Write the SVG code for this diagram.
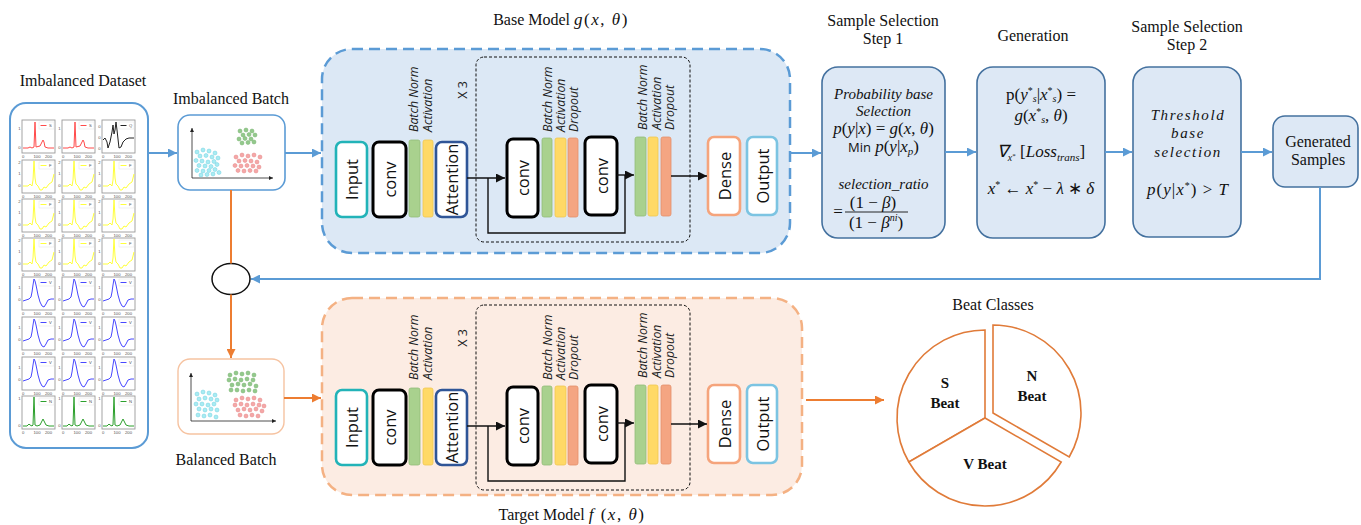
<svg xmlns="http://www.w3.org/2000/svg" xmlns:xlink="http://www.w3.org/1999/xlink" width="1361" height="525" viewBox="0 0 1361 525">
  <style>
    .ttl { font-family: "Liberation Serif", serif; font-size: 16px; fill: #111; text-anchor: middle; }
    .lbl { font-family: "Open Sans", sans-serif; font-size: 16.5px; fill: #111; text-anchor: middle; dominant-baseline: central; }
    .sm  { font-family: "Open Sans", sans-serif; font-size: 12.3px; font-style: italic; fill: #222; }
    .x3  { font-family: "Open Sans", sans-serif; font-size: 12.5px; fill: #222; text-anchor: middle; }
    .m   { font-family: "Liberation Serif", serif; font-size: 17px; fill: #111; text-anchor: middle; }
    .mw  { font-family: "Liberation Serif", serif; font-size: 15px; font-style: italic; fill: #111; text-anchor: middle; }
    .sp  { letter-spacing: 1.6px; }
    .i   { font-style: italic; }
    .sf  { font-family: "Open Sans", sans-serif; font-size: 13px; font-style: normal; }
    .bt  { font-family: "Liberation Serif", serif; font-size: 15px; font-weight: bold; fill: #111; text-anchor: middle; }
    .step { fill: #dde8f5; stroke: #44719f; stroke-width: 1.6; }
    .blue { fill: none; stroke: #5b9bd5; stroke-width: 2; }
    .org  { fill: none; stroke: #ed7d31; stroke-width: 2; }
    .k    { fill: none; stroke: #111; stroke-width: 1.4; }
    .inp { fill: #fff; stroke: #22b3b8; stroke-width: 2.6; }
    .cnv { fill: #fff; stroke: #000; stroke-width: 3; }
    .att { fill: #fff; stroke: #2f5597; stroke-width: 2.6; }
    .dns { fill: #fff; stroke: #f5a47c; stroke-width: 2.6; }
    .out { fill: #fff; stroke: #7cc4e2; stroke-width: 2.6; }
    .bn  { fill: #a9d18e; stroke: #93bd78; stroke-width: 0.8; }
    .ac  { fill: #ffd966; stroke: #f0c850; stroke-width: 0.8; }
    .dr  { fill: #f4a582; stroke: #e48f6a; stroke-width: 0.8; }
    .pf  { fill: #fff; stroke: #9a9a9a; stroke-width: 0.9; }
    .wv  { fill: none; stroke-width: 1; stroke-linejoin: round; }
    .lg  { fill: #fff; stroke: #dddddd; stroke-width: 0.4; }
    .tk  { font-family: "Liberation Sans", sans-serif; font-size: 4.2px; fill: #555; }
    .cy  { fill: #a8ecf3; stroke: #72cfe0; stroke-width: 0.5; }
    .gr  { fill: #93c98c; stroke: #74b06d; stroke-width: 0.5; }
    .pk  { fill: #f5a7a7; stroke: #e48686; stroke-width: 0.5; }
    .pie { fill: #fff; stroke: #e07b39; stroke-width: 1.6; stroke-linejoin: miter; }
  </style>
  <defs>
    <marker id="ab" viewBox="0 0 10 10" refX="10" refY="5" markerWidth="11" markerHeight="9" markerUnits="userSpaceOnUse" orient="auto">
      <path d="M0,0 L10,5 L0,10 z" fill="#5b9bd5"/>
    </marker>
    <marker id="ao" viewBox="0 0 10 10" refX="10" refY="5" markerWidth="11" markerHeight="9" markerUnits="userSpaceOnUse" orient="auto">
      <path d="M0,0 L10,5 L0,10 z" fill="#ed7d31"/>
    </marker>
    <marker id="ak" viewBox="0 0 10 10" refX="10" refY="5" markerWidth="10" markerHeight="9" markerUnits="userSpaceOnUse" orient="auto">
      <path d="M0,0 L10,5 L0,10 z" fill="#111"/>
    </marker>
    <marker id="ax" viewBox="0 0 10 10" refX="10" refY="5" markerWidth="4" markerHeight="4" markerUnits="userSpaceOnUse" orient="auto">
      <path d="M0,0 L10,5 L0,10 z" fill="#222"/>
    </marker>

    <!-- shared tick labels for the small ECG plots -->
    <g id="xt">
      <text class="tk" x="0" y="37.5">0</text>
      <text class="tk" x="11.5" y="37.5">100</text>
      <text class="tk" x="23" y="37.5">200</text>
    </g>

    <!-- one small ECG plot per beat class -->
    <g id="pS">
      <rect class="pf" width="33" height="33"/>
      <polyline class="wv" stroke="#ff4a4a" points="1,28 6,28 8,27 10,28 12,27 13,2 14,27 16,26.5 18,26 20,22 21,20 22,22 23,27 26,28 32,28"/>
      <rect class="lg" x="17" y="2" width="15" height="7"/>
      <line x1="18.5" y1="5.5" x2="24.5" y2="5.5" stroke="#ff4a4a" stroke-width="1"/>
      <text class="tk" x="27" y="7">S</text>
      <text class="tk" x="-1.5" y="10" text-anchor="end">1</text>
      <text class="tk" x="-1.5" y="29" text-anchor="end">0</text>
      <use href="#xt"/>
    </g>
    <g id="pQ">
      <rect class="pf" width="33" height="33"/>
      <polyline class="wv" stroke="#222" points="1,20 3,18 5,22 6,28 8,22 10,12 11,5 12,14 13,10 14,2 15,10 17,28 19,27 21,22 24,19 27,18 32,18"/>
      <rect class="lg" x="17" y="2" width="15" height="7"/>
      <line x1="18.5" y1="5.5" x2="24.5" y2="5.5" stroke="#222" stroke-width="1"/>
      <text class="tk" x="27" y="7">Q</text>
      <text class="tk" x="-1.5" y="8" text-anchor="end">0</text>
      <text class="tk" x="-1.5" y="19" text-anchor="end">0</text>
      <text class="tk" x="-1.5" y="30" text-anchor="end">0</text>
      <use href="#xt"/>
    </g>
    <g id="pF">
      <rect class="pf" width="33" height="33"/>
      <polyline class="wv" stroke="#ffff3a" points="1,26 6,26 8,24 10,26 11,20 12,1 13,18 14,24 16,26 18,30 20,30 22,27 24,28 27,24 30,22 32,14"/>
      <rect class="lg" x="17" y="2" width="15" height="7"/>
      <line x1="18.5" y1="5.5" x2="24.5" y2="5.5" stroke="#ffff3a" stroke-width="1"/>
      <text class="tk" x="27" y="7">F</text>
      <text class="tk" x="-1.5" y="4" text-anchor="end">2</text>
      <text class="tk" x="-1.5" y="15" text-anchor="end">1</text>
      <text class="tk" x="-1.5" y="27" text-anchor="end">0</text>
      <use href="#xt"/>
    </g>
    <g id="pV">
      <rect class="pf" width="33" height="33"/>
      <polyline class="wv" stroke="#4848ff" points="1,24 4,23 7,22 9,20 10,15 11,8 12,2 13,4 14,8 16,18 18,25 20,29 22,30 24,27 26,23 29,22 32,22"/>
      <rect class="lg" x="17" y="2" width="15" height="7"/>
      <line x1="18.5" y1="5.5" x2="24.5" y2="5.5" stroke="#4848ff" stroke-width="1"/>
      <text class="tk" x="27" y="7">V</text>
      <text class="tk" x="-1.5" y="12" text-anchor="end">1</text>
      <text class="tk" x="-1.5" y="24" text-anchor="end">0</text>
      <use href="#xt"/>
    </g>
    <g id="pN">
      <rect class="pf" width="33" height="33"/>
      <polyline class="wv" stroke="#2ca02c" points="1,30 5,30 7,28 8,29 10,30 11,29 12,1 13,29 15,30 18,29 20,25 21,23 22,25 24,29 27,30 32,30"/>
      <rect class="lg" x="17" y="2" width="15" height="7"/>
      <line x1="18.5" y1="5.5" x2="24.5" y2="5.5" stroke="#2ca02c" stroke-width="1"/>
      <text class="tk" x="27" y="7">N</text>
      <text class="tk" x="-1.5" y="4" text-anchor="end">1</text>
      <text class="tk" x="-1.5" y="31" text-anchor="end">0</text>
      <use href="#xt"/>
    </g>

    <!-- layer stack shared by the base and the target network -->
    <g id="stack">
      <rect x="476" y="57" width="214" height="185" rx="8" fill="none" stroke="#111" stroke-width="1" stroke-dasharray="3 2"/>
      <rect class="inp" x="336" y="142" width="31" height="75" rx="6"/>
      <text class="lbl" transform="translate(351.5,179.5) rotate(-90)">Input</text>
      <rect class="cnv" x="373" y="142" width="33" height="75" rx="6"/>
      <text class="lbl" transform="translate(389.5,179.5) rotate(-90)">conv</text>
      <rect class="bn" x="409" y="140" width="11" height="77" rx="2"/>
      <rect class="ac" x="423" y="140" width="10" height="77" rx="2"/>
      <text class="sm" transform="translate(418,132) rotate(-90)">Batch Norm</text>
      <text class="sm" transform="translate(432,132) rotate(-90)">Activation</text>
      <rect class="att" x="436" y="142" width="31" height="75" rx="6"/>
      <text class="lbl" transform="translate(451.5,179.5) rotate(-90)">Attention</text>
      <text class="x3" transform="translate(467,90) rotate(-90)">X 3</text>

      <rect class="cnv" x="507" y="139" width="31" height="78" rx="6"/>
      <text class="lbl" transform="translate(522.5,178) rotate(-90)">conv</text>
      <rect class="bn" x="542" y="138" width="10" height="79" rx="2"/>
      <rect class="ac" x="555" y="138" width="11" height="79" rx="2"/>
      <rect class="dr" x="568" y="138" width="10" height="79" rx="2"/>
      <text class="sm" transform="translate(552,132) rotate(-90)">Batch Norm</text>
      <text class="sm" transform="translate(565,132) rotate(-90)">Activation</text>
      <text class="sm" transform="translate(578,132) rotate(-90)">Dropout</text>

      <rect class="cnv" x="585" y="137" width="32" height="78" rx="6"/>
      <text class="lbl" transform="translate(601,176) rotate(-90)">conv</text>
      <rect class="bn" x="635" y="137" width="11" height="79" rx="2"/>
      <rect class="ac" x="648" y="137" width="10" height="79" rx="2"/>
      <rect class="dr" x="661" y="137" width="10" height="79" rx="2"/>
      <text class="sm" transform="translate(647,130) rotate(-90)">Batch Norm</text>
      <text class="sm" transform="translate(661,130) rotate(-90)">Activation</text>
      <text class="sm" transform="translate(674,130) rotate(-90)">Dropout</text>

      <rect class="dns" x="708" y="137" width="32" height="78" rx="6"/>
      <text class="lbl" transform="translate(724,176) rotate(-90)">Dense</text>
      <rect class="out" x="747" y="137" width="30" height="78" rx="6"/>
      <text class="lbl" transform="translate(762,176) rotate(-90)">Output</text>

      <!-- internal data flow -->
      <line class="k" x1="467" y1="178" x2="505" y2="178" marker-end="url(#ak)"/>
      <path class="k" d="M488,178 V233 H625 V175"/>
      <line class="k" x1="617" y1="175" x2="634" y2="175" marker-end="url(#ak)"/>
      <line class="k" x1="671" y1="176" x2="707" y2="176" marker-end="url(#ak)"/>
    </g>
  </defs>

  <rect width="1361" height="525" fill="#fff"/>

  <!-- Imbalanced dataset -->
  <g id="imbalanced-dataset">
    <text class="ttl" x="83" y="86">Imbalanced Dataset</text>
    <rect x="10" y="103" width="138" height="345" rx="16" fill="#fff" stroke="#5b9bd5" stroke-width="2"/>
    <use href="#pS" x="22" y="120"/><use href="#pS" x="62" y="120"/><use href="#pQ" x="102" y="120"/>
    <use href="#pF" x="22" y="160"/><use href="#pF" x="62" y="160"/><use href="#pF" x="102" y="160"/>
    <use href="#pF" x="22" y="199"/><use href="#pF" x="62" y="199"/><use href="#pF" x="102" y="199"/>
    <use href="#pF" x="22" y="238"/><use href="#pF" x="62" y="238"/><use href="#pF" x="102" y="238"/>
    <use href="#pV" x="22" y="277"/><use href="#pV" x="62" y="277"/><use href="#pV" x="102" y="277"/>
    <use href="#pV" x="22" y="317"/><use href="#pV" x="62" y="317"/><use href="#pV" x="102" y="317"/>
    <use href="#pV" x="22" y="357"/><use href="#pV" x="62" y="357"/><use href="#pV" x="102" y="357"/>
    <use href="#pN" x="22" y="396"/><use href="#pN" x="62" y="396"/><use href="#pN" x="102" y="396"/>
  </g>

  <!-- Imbalanced batch -->
  <g id="imbalanced-batch">
    <text class="ttl" x="231" y="104">Imbalanced Batch</text>
    <rect x="178" y="115" width="107" height="75" rx="12" fill="#fff" stroke="#5b9bd5" stroke-width="1.6"/>
    <line x1="192" y1="178" x2="192" y2="128" stroke="#222" stroke-width="0.8" marker-end="url(#ax)"/>
    <line x1="192" y1="178" x2="273" y2="178" stroke="#222" stroke-width="0.8" marker-end="url(#ax)"/>
    <g class="cy">
      <circle cx="197" cy="152" r="2"/><circle cx="203" cy="150" r="2"/><circle cx="209" cy="151" r="2"/><circle cx="215" cy="153" r="2"/>
      <circle cx="200" cy="156" r="2"/><circle cx="206" cy="155.5" r="2"/><circle cx="212" cy="157" r="2"/><circle cx="218" cy="158" r="2"/>
      <circle cx="196" cy="160.5" r="2"/><circle cx="202" cy="161" r="2"/><circle cx="208" cy="162" r="2"/><circle cx="214" cy="161.5" r="2"/>
      <circle cx="199" cy="165.5" r="2"/><circle cx="205" cy="166" r="2"/><circle cx="211" cy="166.5" r="2"/><circle cx="217" cy="164.5" r="2"/>
      <circle cx="197" cy="170.5" r="2"/><circle cx="203" cy="171" r="2"/><circle cx="209" cy="170.5" r="2"/><circle cx="215" cy="169.5" r="2"/>
      <circle cx="201" cy="175" r="2"/><circle cx="207" cy="174.5" r="2"/><circle cx="213" cy="174" r="2"/><circle cx="219" cy="172.5" r="2"/>
    </g>
    <g class="gr">
      <circle cx="240" cy="131" r="2"/><circle cx="246" cy="130" r="2"/><circle cx="252" cy="131" r="2"/>
      <circle cx="243" cy="135" r="2"/><circle cx="249" cy="134.5" r="2"/><circle cx="255" cy="135" r="2"/>
      <circle cx="239" cy="139" r="2"/><circle cx="245" cy="138.5" r="2"/><circle cx="251" cy="139" r="2"/>
      <circle cx="242" cy="143" r="2"/><circle cx="248" cy="142.5" r="2"/><circle cx="254" cy="142" r="2"/>
    </g>
    <g class="pk">
      <circle cx="236" cy="157" r="2"/><circle cx="242" cy="155" r="2"/><circle cx="248" cy="156" r="2"/><circle cx="254" cy="155" r="2"/><circle cx="260" cy="157" r="2"/>
      <circle cx="239" cy="161" r="2"/><circle cx="245" cy="160.5" r="2"/><circle cx="251" cy="161" r="2"/><circle cx="257" cy="162" r="2"/>
      <circle cx="235" cy="165.5" r="2"/><circle cx="241" cy="166" r="2"/><circle cx="247" cy="165.5" r="2"/><circle cx="253" cy="166" r="2"/><circle cx="259" cy="167" r="2"/>
      <circle cx="238" cy="170.5" r="2"/><circle cx="244" cy="171" r="2"/><circle cx="250" cy="170.5" r="2"/><circle cx="256" cy="171" r="2"/>
    </g>
  </g>

  <!-- Merge point -->
  <g id="merge">
    <ellipse cx="231" cy="279" rx="19" ry="15.5" fill="#fff" stroke="#111" stroke-width="1.5"/>
  </g>

  <!-- Balanced batch -->
  <g id="balanced-batch">
    <rect x="178" y="359" width="106" height="75" rx="12" fill="#fff" stroke="#f6c3a1" stroke-width="1.4"/>
    <line x1="191" y1="421" x2="191" y2="373" stroke="#222" stroke-width="0.8" marker-end="url(#ax)"/>
    <line x1="191" y1="421" x2="276" y2="421" stroke="#222" stroke-width="0.8" marker-end="url(#ax)"/>
    <g class="cy">
      <circle cx="197" cy="394" r="2"/><circle cx="203" cy="392" r="2"/><circle cx="209" cy="393" r="2"/><circle cx="215" cy="395" r="2"/>
      <circle cx="199" cy="399" r="2"/><circle cx="205" cy="398" r="2"/><circle cx="211" cy="399" r="2"/><circle cx="217" cy="400" r="2"/>
      <circle cx="196" cy="404" r="2"/><circle cx="202" cy="404" r="2"/><circle cx="208" cy="405" r="2"/><circle cx="214" cy="404" r="2"/>
      <circle cx="199" cy="409" r="2"/><circle cx="205" cy="410" r="2"/><circle cx="211" cy="409" r="2"/><circle cx="217" cy="410" r="2"/>
      <circle cx="198" cy="415" r="2"/><circle cx="204" cy="416" r="2"/><circle cx="210" cy="415" r="2"/><circle cx="216" cy="417" r="2"/>
    </g>
    <g class="gr">
      <circle cx="230" cy="375" r="2"/><circle cx="236" cy="373" r="2"/><circle cx="242" cy="374" r="2"/><circle cx="248" cy="373" r="2"/><circle cx="254" cy="375" r="2"/>
      <circle cx="229" cy="380" r="2"/><circle cx="235" cy="379" r="2"/><circle cx="241" cy="380" r="2"/><circle cx="247" cy="379" r="2"/><circle cx="253" cy="380" r="2"/>
      <circle cx="232" cy="385" r="2"/><circle cx="238" cy="384" r="2"/><circle cx="244" cy="385" r="2"/><circle cx="250" cy="384" r="2"/><circle cx="256" cy="386" r="2"/>
      <circle cx="231" cy="390" r="2"/><circle cx="237" cy="390" r="2"/><circle cx="243" cy="391" r="2"/><circle cx="249" cy="390" r="2"/><circle cx="255" cy="391" r="2"/>
    </g>
    <g class="pk">
      <circle cx="236" cy="400" r="2"/><circle cx="242" cy="398" r="2"/><circle cx="248" cy="399" r="2"/><circle cx="254" cy="398" r="2"/><circle cx="260" cy="400" r="2"/>
      <circle cx="235" cy="405" r="2"/><circle cx="241" cy="404" r="2"/><circle cx="247" cy="405" r="2"/><circle cx="253" cy="404" r="2"/><circle cx="259" cy="405" r="2"/><circle cx="264" cy="406" r="2"/>
      <circle cx="238" cy="410" r="2"/><circle cx="244" cy="409" r="2"/><circle cx="250" cy="410" r="2"/><circle cx="256" cy="409" r="2"/><circle cx="262" cy="411" r="2"/>
      <circle cx="240" cy="415" r="2"/><circle cx="246" cy="416" r="2"/><circle cx="252" cy="415" r="2"/><circle cx="258" cy="416" r="2"/>
    </g>
    <text class="ttl" x="226" y="465">Balanced Batch</text>
  </g>

  <!-- Base model g(x, θ) -->
  <g id="base-model">
    <text class="ttl" x="561" y="25">Base Model <tspan font-size="17" letter-spacing="1.5"><tspan class="i">g</tspan>(<tspan class="i">x</tspan>, <tspan class="i">θ</tspan>)</tspan></text>
    <rect x="322" y="49" width="468" height="204" rx="30" fill="#dce8f5" stroke="#5b9bd5" stroke-width="2.5" stroke-dasharray="11 6"/>
    <use href="#stack"/>
  </g>

  <!-- Target model f(x, θ) -->
  <g id="target-model">
    <rect x="322" y="298" width="480" height="197" rx="30" fill="#fcece3" stroke="#f4b183" stroke-width="2.5" stroke-dasharray="11 6"/>
    <use href="#stack" y="248"/>
    <text class="ttl" x="572" y="520">Target Model <tspan font-size="17" letter-spacing="1.5"><tspan class="i">f</tspan> (<tspan class="i">x</tspan>, <tspan class="i">θ</tspan>)</tspan></text>
  </g>

  <!-- Sample selection, step 1 -->
  <g id="selection-step1">
    <text class="ttl" x="883" y="26">Sample Selection</text>
    <text class="ttl" x="883" y="44">Step 1</text>
    <rect class="step" x="822" y="67" width="123" height="171" rx="16"/>
    <text class="mw" x="883.5" y="99" font-size="14.5">Probability base</text>
    <text class="mw" x="883.5" y="116" font-size="14.5">Selection</text>
    <text class="m" x="883.5" y="134" font-size="16"><tspan class="i">p</tspan>(<tspan class="i">y</tspan>|<tspan class="i">x</tspan>) = <tspan class="i">g</tspan>(<tspan class="i">x</tspan>, <tspan class="i">θ</tspan>)</text>
    <text class="m" x="883.5" y="152" font-size="16"><tspan class="sf">Min</tspan> <tspan class="i">p</tspan>(<tspan class="i">y</tspan>|<tspan class="i">x</tspan><tspan class="i" font-size="11" dy="3">p</tspan><tspan dy="-3">)</tspan></text>
    <text class="mw" x="883.5" y="189">selection_ratio</text>
    <text class="m" x="838" y="217">=</text>
    <text class="m" x="873" y="208">(1 − <tspan class="i">β</tspan>)</text>
    <line x1="845" y1="212" x2="908" y2="212" stroke="#111" stroke-width="0.9"/>
    <text class="m" x="876" y="228">(1 − <tspan class="i">β</tspan><tspan class="i" font-size="10" dy="-7">ni</tspan><tspan dy="7">)</tspan></text>
  </g>

  <!-- Generation -->
  <g id="generation">
    <text class="ttl" x="1033" y="41">Generation</text>
    <rect class="step" x="977" y="67" width="128" height="171" rx="16"/>
    <text class="m" x="1041" y="100">p(<tspan class="i">y</tspan><tspan font-size="10" dy="-6">*</tspan><tspan class="i" font-size="10" dy="8">s</tspan><tspan dy="-2">|</tspan><tspan class="i">x</tspan><tspan font-size="10" dy="-6">*</tspan><tspan class="i" font-size="10" dy="8">s</tspan><tspan dy="-2">) =</tspan></text>
    <text class="m" x="1041" y="121"><tspan class="i">g</tspan>(<tspan class="i">x</tspan><tspan font-size="10" dy="-6">*</tspan><tspan class="i" font-size="10" dy="8">s</tspan><tspan dy="-2">, </tspan><tspan class="i">θ</tspan>)</text>
    <text class="m" x="1041" y="157"><tspan class="i">∇</tspan><tspan class="i" font-size="10" dy="4">x</tspan><tspan font-size="7" dy="-3">*</tspan><tspan dy="-1"> [</tspan><tspan class="i">Loss</tspan><tspan class="i" font-size="11" dy="4">trans</tspan><tspan dy="-4">]</tspan></text>
    <text class="m" x="1041" y="194"><tspan class="i">x</tspan><tspan font-size="10" dy="-6">*</tspan><tspan dy="6"> ← </tspan><tspan class="i">x</tspan><tspan font-size="10" dy="-6">*</tspan><tspan dy="6">  − </tspan><tspan class="i">λ</tspan> ∗ <tspan class="i">δ</tspan></text>
  </g>

  <!-- Sample selection, step 2 -->
  <g id="selection-step2">
    <text class="ttl" x="1187" y="32">Sample Selection</text>
    <text class="ttl" x="1187" y="50">Step 2</text>
    <rect class="step" x="1133" y="67" width="108" height="170" rx="16"/>
    <text class="mw sp" x="1188" y="120">Threshold</text>
    <text class="mw sp" x="1188" y="138">base</text>
    <text class="mw sp" x="1188" y="157">selection</text>
    <text class="m" x="1188" y="195" letter-spacing="1"><tspan class="i">p</tspan>(<tspan class="i">y</tspan>|<tspan class="i">x</tspan><tspan font-size="10" dy="-6">*</tspan><tspan dy="6">) &gt; </tspan><tspan class="i">T</tspan></text>
  </g>

  <!-- Generated samples -->
  <g id="generated-samples">
    <rect class="step" x="1273" y="116" width="85" height="71" rx="12"/>
    <text class="ttl" x="1318" y="147" font-size="16.5">Generated</text>
    <text class="ttl" x="1318" y="165" font-size="16.5">Samples</text>
  </g>

  <!-- Beat classes -->
  <g id="beat-classes">
    <text class="ttl" x="993" y="310">Beat Classes</text>
    <path class="pie" d="M985,418 L985,330 A88,88 0 0,0 908.8,462 Z"/>
    <path class="pie" d="M985,418 L908.8,462 A88,88 0 0,0 1061.2,462 Z"/>
    <path class="pie" d="M993,413 L1069.2,457 A88,88 0 0,0 993,325 Z"/>
    <text class="bt" x="945" y="388">S</text>
    <text class="bt" x="945" y="408">Beat</text>
    <text class="bt" x="1032" y="381">N</text>
    <text class="bt" x="1032" y="401">Beat</text>
    <text class="bt" x="985" y="469">V Beat</text>
  </g>

  <!-- Connectors -->
  <g id="connectors">
    <line class="blue" x1="148" y1="153" x2="177" y2="153" marker-end="url(#ab)"/>
    <line class="blue" x1="285" y1="153" x2="321" y2="153" marker-end="url(#ab)"/>
    <line class="blue" x1="790" y1="153" x2="821" y2="153" marker-end="url(#ab)"/>
    <line class="blue" x1="945" y1="152" x2="976" y2="152" marker-end="url(#ab)"/>
    <line class="blue" x1="1105" y1="152" x2="1132" y2="152" marker-end="url(#ab)"/>
    <line class="blue" x1="1241" y1="152" x2="1272" y2="152" marker-end="url(#ab)"/>
    <path class="blue" d="M1320,187 V279 H251" marker-end="url(#ab)"/>
    <line class="org" x1="231" y1="190" x2="231" y2="263.5"/>
    <line class="org" x1="231" y1="294.5" x2="231" y2="358" marker-end="url(#ao)"/>
    <line class="org" x1="284" y1="398" x2="321" y2="398" marker-end="url(#ao)"/>
    <line class="org" x1="806" y1="400" x2="884" y2="400" marker-end="url(#ao)"/>
  </g>
</svg>
